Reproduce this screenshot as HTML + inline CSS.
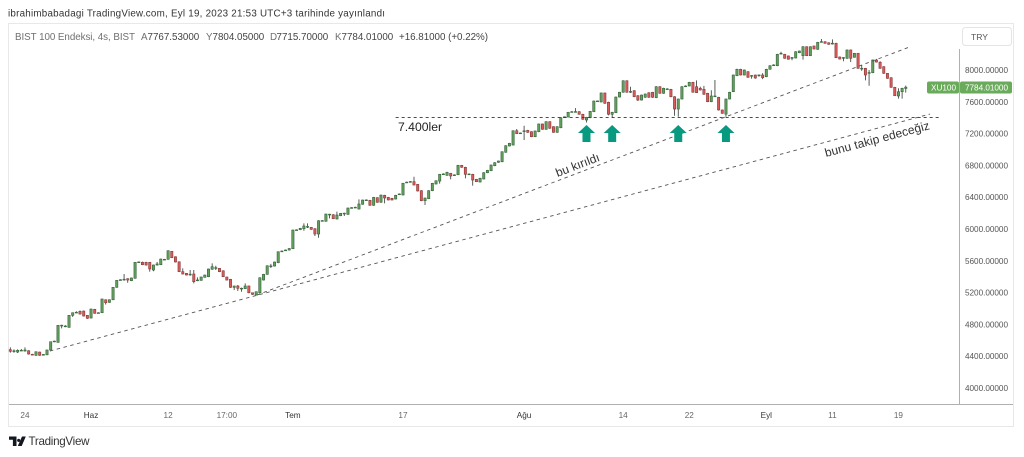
<!DOCTYPE html>
<html lang="tr">
<head>
<meta charset="utf-8">
<title>BIST 100 Endeksi</title>
<style>
html,body{margin:0;padding:0;background:#fff;width:1024px;height:457px;overflow:hidden}
svg{display:block;font-family:"Liberation Sans",sans-serif}
</style>
</head>
<body>
<svg id="chart" width="1024" height="457" viewBox="0 0 1024 457" xmlns="http://www.w3.org/2000/svg">
  <text x="8" y="16.5" font-size="9.8" fill="#333" textLength="377" lengthAdjust="spacing">ibrahimbabadagi TradingView.com, Eyl 19, 2023 21:53 UTC+3 tarihinde yayınlandı</text>
  <rect x="8.5" y="23.5" width="1005" height="403" fill="#fff" stroke="#e8e8e8"/>
  <line x1="959.5" y1="49" x2="959.5" y2="404.5" stroke="#b0b0b0"/>
  <line x1="9" y1="404.5" x2="1013" y2="404.5" stroke="#b0b0b0"/>
  <g font-size="9.8">
    <text x="15" y="40" fill="#707070" textLength="120">BIST 100 Endeksi, 4s, BIST</text>
    <text x="141" y="40" fill="#707070">A</text>
    <text x="147.5" y="40" fill="#444">7767.53000</text>
    <text x="206" y="40" fill="#707070">Y</text>
    <text x="212.5" y="40" fill="#444">7804.05000</text>
    <text x="270" y="40" fill="#707070">D</text>
    <text x="276.5" y="40" fill="#444">7715.70000</text>
    <text x="335" y="40" fill="#707070">K</text>
    <text x="341.5" y="40" fill="#444">7784.01000</text>
    <text x="399" y="40" fill="#444" textLength="89">+16.81000 (+0.22%)</text>
  </g>
  <g>
    <rect x="962.5" y="27.5" width="49" height="18" rx="3" fill="#fff" stroke="#e4e4e4"/>
    <text x="971" y="40" font-size="8.6" fill="#555">TRY</text>
  </g>
  <g id="yticks"></g>
  <g id="xticks"></g>
  <g id="candles"></g>
  <g id="annotations"></g>
  <g>
    <rect x="927" y="81.5" width="32" height="12" rx="2" fill="#6aaa5b"/>
    <rect x="960" y="81.5" width="52" height="12" rx="2" fill="#6aaa5b"/>
    <text x="931" y="90.5" font-size="8.2" fill="#fff">XU100</text>
    <text x="965" y="90.5" font-size="8.2" fill="#fff" textLength="43">7784.01000</text>
  </g>
  <g>
    <path d="M9 436.5h7.5v9.5h-3.6v-6.2H9zM17.5 439.3a1.6 1.6 0 1 0 .1-.1zM22 436.5h3.8L21.7 446h-3.9z" fill="#131722"/>
    <text x="28.5" y="445" font-size="11.6" fill="#333" textLength="61">TradingView</text>
  </g>
</svg>
<script>
const opens = [
4482,4462,4452,4472,4465,4469,4424,4411,4452,4418,
4418,4478,4582,4574,4785,4775,4763,4914,4950,4965,
4968,4914,4880,4990,4945,4947,5110,5077,5110,5266,
5358,5364,5375,5350,5380,5583,5581,5581,5581,5484,
5547,5551,5616,5619,5719,5651,5588,5463,5442,5430,
5434,5356,5354,5392,5400,5493,5512,5505,5475,5396,
5367,5266,5283,5252,5249,5283,5198,5170,5198,5358,
5430,5532,5534,5576,5720,5733,5735,5752,5987,5991,
6004,6029,6021,6004,5937,6103,6097,6183,6180,6126,
6167,6196,6184,6266,6271,6251,6311,6363,6361,6298,
6394,6336,6424,6398,6386,6377,6438,6428,6586,6594,
6595,6562,6482,6356,6381,6482,6566,6603,6690,6675,
6700,6678,6683,6801,6776,6690,6688,6625,6591,6629,
6708,6733,6796,6839,6846,6965,7044,7056,7236,7206,
7233,7241,7224,7161,7224,7321,7254,7350,7287,7216,
7274,7408,7409,7474,7475,7476,7443,7371,7400,7476,
7608,7598,7711,7594,7443,7463,7660,7720,7865,7727,
7740,7677,7622,7657,7714,7719,7652,7790,7707,7760,
7757,7664,7509,7635,7797,7799,7845,7790,7770,7757,
7707,7601,7671,7657,7497,7445,7635,7727,7928,8009,
7937,7979,7928,7937,7936,7937,7916,8009,8062,8054,
8208,8197,8177,8155,8151,8218,8180,8293,8180,8302,
8260,8355,8356,8343,8335,8336,8164,8155,8147,8252,
8160,8210,8020,8021,7965,7966,8126,8097,8042,7958,
7903,7782,7673,7727,7767.53];
const closes = [
4462,4468,4474,4475,4478,4427,4420,4456,4411,4422,
4478,4582,4590,4788,4790,4780,4914,4947,4953,4930,
4905,4876,4993,4939,4947,5119,5073,5110,5266,5354,
5362,5368,5358,5384,5581,5586,5551,5547,5497,5547,
5560,5622,5619,5727,5639,5585,5463,5434,5421,5432,
5337,5359,5396,5421,5497,5526,5514,5463,5400,5358,
5266,5283,5254,5255,5283,5198,5178,5211,5387,5430,
5538,5536,5585,5714,5723,5736,5754,5987,5990,6009,
6038,6032,5996,5937,6104,6106,6188,6186,6130,6176,
6197,6199,6264,6269,6274,6314,6364,6366,6298,6398,
6336,6427,6390,6365,6365,6424,6441,6575,6590,6597,
6553,6478,6356,6390,6482,6575,6607,6688,6693,6713,
6667,6681,6801,6776,6688,6692,6616,6595,6638,6708,
6738,6805,6834,6855,6972,7048,7078,7236,7199,7208,
7235,7216,7161,7233,7321,7254,7350,7267,7216,7287,
7400,7411,7468,7476,7477,7443,7380,7405,7480,7610,
7611,7711,7581,7443,7468,7660,7720,7865,7720,7730,
7664,7622,7685,7698,7657,7657,7790,7707,7770,7763,
7664,7509,7635,7790,7799,7845,7720,7715,7748,7694,
7601,7673,7673,7497,7455,7635,7720,7937,8009,7937,
8000,7908,7931,7899,7938,7903,8009,8054,8064,8197,
8210,8147,8135,8157,8230,8239,8293,8180,8293,8264,
8348,8357,8336,8323,8337,8155,8138,8157,8252,8147,
8210,8021,8022,7937,7968,8126,8100,8021,7958,7895,
7782,7677,7727,7770,7784.01];
const highs = [
4511,4486,4486,4490,4511,4475,4430,4460,4456,4428,
4482,4585,4595,4792,4795,4790,4918,4950,4965,4975,
4975,4918,4998,4995,4952,5125,5115,5115,5270,5358,
5368,5434,5380,5388,5585,5592,5590,5588,5586,5552,
5585,5628,5625,5732,5724,5655,5592,5505,5447,5484,
5484,5392,5400,5425,5502,5568,5538,5510,5480,5400,
5372,5288,5296,5262,5316,5288,5202,5215,5392,5435,
5542,5562,5590,5718,5730,5742,5760,5992,5996,6014,
6071,6071,6026,6010,6110,6112,6193,6192,6186,6218,
6202,6205,6269,6274,6280,6373,6370,6372,6366,6404,
6399,6433,6430,6404,6392,6430,6447,6580,6595,6603,
6658,6567,6488,6395,6488,6580,6612,6693,6700,6720,
6706,6688,6806,6806,6782,6700,6694,6630,6644,6714,
6744,6810,6840,6860,6977,7053,7084,7240,7258,7214,
7299,7247,7230,7238,7326,7326,7355,7355,7292,7292,
7405,7416,7473,7482,7520,7482,7449,7410,7485,7615,
7617,7716,7716,7600,7474,7665,7725,7870,7870,7790,
7746,7683,7690,7704,7720,7725,7796,7796,7776,7770,
7762,7670,7640,7796,7806,7851,7851,7870,7790,7800,
7712,7745,7874,7662,7503,7640,7725,7943,8015,8015,
8006,7985,7936,7942,7944,7960,8015,8060,8072,8203,
8230,8203,8182,8163,8236,8245,8298,8298,8298,8307,
8354,8390,8362,8348,8385,8342,8170,8162,8258,8258,
8216,8216,8060,8027,8000,8131,8140,8110,8047,7963,
7909,7788,7770,7776,7804.05];
const lows = [
4444,4444,4440,4465,4458,4420,4415,4405,4405,4412,
4412,4475,4578,4570,4750,4765,4758,4895,4945,4925,
4900,4870,4875,4935,4940,4942,5050,5072,5105,5262,
5352,5350,5324,5345,5376,5578,5545,5540,5463,5468,
5540,5546,5610,5614,5634,5580,5458,5428,5416,5412,
5316,5345,5350,5388,5395,5488,5484,5458,5395,5352,
5260,5232,5220,5210,5245,5192,5172,5165,5192,5352,
5425,5510,5528,5570,5715,5728,5730,5748,5982,5986,
5978,6012,5990,5912,5890,6098,6092,6134,6125,6120,
6162,6163,6179,6260,6266,6246,6306,6358,6292,6292,
6330,6330,6323,6360,6360,6372,6432,6422,6580,6589,
6548,6472,6350,6302,6376,6476,6560,6570,6685,6670,
6625,6672,6678,6770,6637,6684,6545,6590,6585,6624,
6703,6728,6790,6834,6840,6960,7039,7050,7194,7200,
7120,7210,7155,7155,7218,7248,7248,7260,7210,7210,
7268,7402,7404,7470,7470,7438,7374,7340,7394,7470,
7603,7593,7575,7430,7400,7458,7655,7715,7715,7710,
7658,7610,7616,7650,7650,7650,7646,7702,7702,7754,
7658,7425,7412,7630,7790,7794,7715,7710,7742,7688,
7596,7596,7660,7490,7450,7412,7630,7722,7923,7932,
7932,7903,7890,7890,7915,7885,7910,8004,8056,8048,
8202,8142,8130,8122,8146,8212,8130,8175,8175,8258,
8255,8350,8330,8318,8320,8150,8132,8110,8142,8100,
8155,8015,7990,7870,7802,7960,8095,8015,7952,7890,
7777,7672,7640,7640,7715.7];
const priceTicks = [8000,7600,7200,6800,6400,6000,5600,5200,4800,4400,4000];
const timeLabels = ["24","Haz","12","17:00","Tem","17","Ağu","14","22","Eyl","11","19"];
const timeBars = [4,22,43,59,77,107,140,167,185,206,224,242];
const boldTimeLabels = ["Haz","Tem","Ağu","Eyl"];
const supportBars = [157,164,182,195];
const supportTipPrice = 7308;
const levelPrice = 7402;
const levelBars = [105,253];
const brokenTrendBars = [67.2,245.2];
const brokenTrendPrices = [5169,8293];
const followTrendBars = [10.8,250.6];
const followTrendPrices = [4465,7446];

const NS = "http://www.w3.org/2000/svg";
function barX(i){ return 10.3 + 3.67 * i; }
function priceY(p){ return 70 + (8000 - p) * 0.0795; }
function make(tag, parent, attrs){
  const el = document.createElementNS(NS, tag);
  for (const k in attrs) el.setAttribute(k, attrs[k]);
  parent.appendChild(el);
  return el;
}

const yGroup = document.getElementById("yticks");
priceTicks.forEach(function(p){
  const t = make("text", yGroup, {x:965, y:priceY(p)+3, "font-size":8.2, fill:"#555", textLength:43});
  
  
  t.textContent = p.toFixed(5);
});

const xGroup = document.getElementById("xticks");
timeLabels.forEach(function(label, i){
  const bold = boldTimeLabels.indexOf(label) >= 0;
  const t = make("text", xGroup, {x:barX(timeBars[i]), y:418, "font-size":8.2, "text-anchor":"middle", fill:bold?"#333":"#666"});
  
  
  t.textContent = label;
});

const candleGroup = document.getElementById("candles");
opens.forEach(function(o, i){
  const c = closes[i];
  const up = c >= o;
  const cx = barX(i);
  const g = make("g", candleGroup, {});
  
  
  const wick = make("line", g, {x1:cx, x2:cx, y1:priceY(highs[i]), y2:priceY(lows[i]), stroke:"#2f362f", "stroke-width":0.8});
  
  
  const top = priceY(Math.max(o, c));
  const h = Math.max(priceY(Math.min(o, c)) - top, 0.8);
  const body = make("rect", g, {x:cx-1.15, y:top, width:2.3, height:h, fill:up?"#639f5c":"#d85a5b", stroke:up?"#35633a":"#873a3a", "stroke-width":0.6});
  
  
});

const ann = document.getElementById("annotations");
const level = make("line", ann, {x1:barX(levelBars[0]), x2:barX(levelBars[1]), y1:priceY(levelPrice), y2:priceY(levelPrice), stroke:"#333", "stroke-width":0.9, "stroke-dasharray":"3 3"});


const broken = make("line", ann, {x1:barX(brokenTrendBars[0]), x2:barX(brokenTrendBars[1]), y1:priceY(brokenTrendPrices[0]), y2:priceY(brokenTrendPrices[1]), stroke:"#555", "stroke-width":0.9, "stroke-dasharray":"3.5 3.5"});


const follow = make("line", ann, {x1:barX(followTrendBars[0]), x2:barX(followTrendBars[1]), y1:priceY(followTrendPrices[0]), y2:priceY(followTrendPrices[1]), stroke:"#555", "stroke-width":0.9, "stroke-dasharray":"3.5 3.5"});



supportBars.forEach(function(b){
  const cx = barX(b);
  const tip = priceY(supportTipPrice);
  const pts = [[cx,tip],[cx+8.5,tip+8],[cx+4,tip+8],[cx+4,tip+17],[cx-4,tip+17],[cx-4,tip+8],[cx-8.5,tip+8]];
  const a = make("polygon", ann, {points:pts.map(function(p){return p.join(",");}).join(" "), fill:"#089981"});
  
  
});

const levelText = make("text", ann, {x:398, y:131, "font-size":12.2, fill:"#222"});


levelText.textContent = "7.400ler";

const brokeText = make("text", ann, {x:0, y:0, "font-size":12, fill:"#333", transform:"translate(557.5,177) rotate(-21)"});


brokeText.textContent = "bu kırıldı";

const followText = make("text", ann, {x:0, y:0, "font-size":12, fill:"#333", textLength:108, transform:"translate(826,157) rotate(-15)"});


followText.textContent = "bunu takip edeceğiz";
</script>
</body>
</html>
